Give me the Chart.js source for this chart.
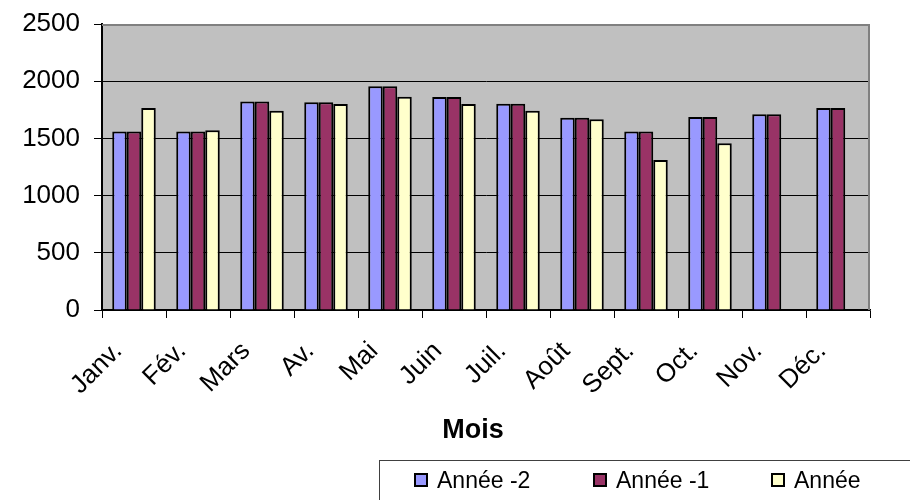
<!DOCTYPE html>
<html><head><meta charset="utf-8">
<script src="https://cdn.jsdelivr.net/npm/chart.js@4.4.1/dist/chart.umd.min.js"></script>
<style>
html,body{margin:0;padding:0;background:#fff;}
#wrap{position:relative;width:910px;height:500px;overflow:hidden;}
#c{position:absolute;left:0;top:0;}
#legend{position:absolute;left:379px;top:460px;width:600px;height:80px;border:1px solid #404040;box-sizing:border-box;font:23px "Liberation Sans",Arial,sans-serif;color:#000;}
.sq{position:absolute;top:12px;width:10px;height:10px;border:2px solid #000;}
.tx{position:absolute;top:6px;line-height:26px;white-space:nowrap;}
</style></head>
<body><div id="wrap"><canvas id="c" width="910" height="500"></canvas>
<div id="legend"></div></div>
<script>
const categories = ['Janv.','Fév.','Mars','Av.','Mai','Juin','Juil.','Août','Sept.','Oct.','Nov.','Déc.'];
const seriesNames = ['Année -2','Année -1','Année'];
const anneeMoins2 = [1560,1560,1823,1817,1955,1861,1803,1680,1560,1686,1712,1765];
const anneeMoins1 = [1560,1560,1823,1817,1955,1861,1803,1680,1560,1686,1712,1765];
const annee = [1765,1572,1741,1800,1864,1800,1741,1668,1311,1458,null,null];
const yTicks = [0,500,1000,1500,2000,2500];
const xTitle = 'Mois';
const colors = ['#9999FF','#993366','#FFFFCC'];

const FONT = '"Liberation Sans", Arial, sans-serif';

const bgPlugin = {
  id: 'bg',
  beforeDraw(chart) {
    const {ctx, chartArea: a} = chart;
    ctx.save();
    ctx.fillStyle = '#C0C0C0';
    ctx.fillRect(a.left, a.top, a.right - a.left, a.bottom - a.top);
    ctx.restore();
  },
  afterDatasetsDraw(chart) {
    const {ctx, chartArea: a} = chart;
    ctx.save();
    ctx.strokeStyle = '#808080';
    ctx.lineWidth = 2;
    ctx.beginPath();
    ctx.moveTo(a.left, a.top + 1);
    ctx.lineTo(a.right - 1, a.top + 1);
    ctx.lineTo(a.right - 1, a.bottom);
    ctx.stroke();
    ctx.restore();
  },
  afterDraw(chart) {
    const {ctx, chartArea: a} = chart;
    ctx.save();
    ctx.fillStyle = '#000';
    ctx.font = 'bold 27px ' + FONT;
    ctx.textAlign = 'center';
    ctx.textBaseline = 'middle';
    ctx.fillText(xTitle, a.left + (a.right - a.left) * 0.483, 431);
    ctx.restore();
  }
};

const data = [anneeMoins2, anneeMoins1, annee];
new Chart(document.getElementById('c'), {
  type: 'bar',
  data: {
    labels: categories,
    datasets: data.map((d, i) => ({
      label: seriesNames[i],
      data: d,
      backgroundColor: colors[i],
      borderColor: '#000',
      borderWidth: 2,
      categoryPercentage: 0.68,
      barPercentage: 1.0
    }))
  },
  options: {
    responsive: false,
    animation: false,
    layout: {padding: {left: 0, right: 40, top: 24, bottom: 52}},
    plugins: {legend: {display: false}, tooltip: {enabled: false}},
    scales: {
      x: {
        grid: {offset: true, drawOnChartArea: false, color: '#000', tickColor: '#000', tickLength: 8, lineWidth: 1},
        border: {color: '#000', width: 1.5},
        ticks: {
          autoSkip: false, maxRotation: 45, minRotation: 45,
          color: '#000', font: {family: FONT, size: 26},
          padding: 18, labelOffset: -16
        },
        afterFit(s) { s.height = 138; s.paddingLeft = 0; s.paddingRight = 0; }
      },
      y: {
        min: 0, max: 2500,
        afterBuildTicks(s) { s.ticks = yTicks.map(v => ({value: v})); },
        grid: {
          color: ctx => (ctx.tick && ctx.tick.value === 2500) ? 'rgba(0,0,0,0)' : '#000',
          tickColor: '#000', tickLength: 8, lineWidth: 1
        },
        border: {color: '#000', width: 2},
        ticks: {color: '#000', font: {family: FONT, size: 26}, padding: 14, callback: v => String(v)},
        afterFit(s) { s.width = 102; s.paddingTop = 0; s.paddingBottom = 0; }
      }
    }
  },
  plugins: [bgPlugin]
});

const leg = document.getElementById('legend');
const lx = [34, 213, 391];
seriesNames.forEach((n, i) => {
  const sq = document.createElement('div');
  sq.className = 'sq';
  sq.style.left = lx[i] + 'px';
  sq.style.background = colors[i];
  leg.appendChild(sq);
  const t = document.createElement('div');
  t.className = 'tx';
  t.style.left = (lx[i] + 23) + 'px';
  t.textContent = n;
  leg.appendChild(t);
});
</script></body></html>
